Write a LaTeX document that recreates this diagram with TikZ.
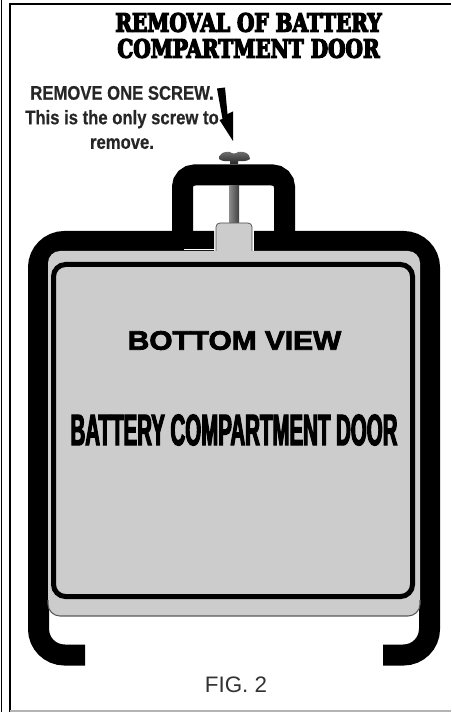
\documentclass[tikz,border=0pt]{standalone}
\usepackage{fontspec}
\setmainfont{Liberation Sans}
\newfontfamily\titlefont[FakeBold=5,FakeStretch=0.79]{DejaVu Serif Bold}
\newfontfamily\narrowfont[FakeBold=0.5,FakeStretch=0.85]{Liberation Sans Bold}
\newfontfamily\condblack[FakeBold=2.5,FakeStretch=0.465]{Liberation Sans Bold}
\newfontfamily\wideblack[FakeBold=3,FakeStretch=1.12]{Liberation Sans Bold}
\usepackage{xcolor}
\definecolor{doorgray}{HTML}{CCCCCC}
\definecolor{framegray}{HTML}{B4B4B4}
\tikzset{
  housing/.style={line width=15.75pt,line cap=butt,rounded corners=19.5pt},
  doorpanel/.style={fill=doorgray,draw=black,line width=3.75pt,rounded corners=9pt},
}
\begin{document}
\begin{tikzpicture}[x=0.75pt,y=-0.75pt]
\useasboundingbox (0,0) rectangle (451,712);
% frame
\draw[line width=1.2pt] (1.5,0) -- (1.5,712);
\draw[line width=1.4pt] (10,712) -- (10,3.8) -- (451,3.8);
\draw[framegray,line width=0.8pt] (10,711) -- (451,711);
% housing
\draw[housing] (85,655) -- (38.5,655) -- (38.5,241.5) -- (214,241.5);
\draw[housing] (383,655) -- (429.5,655) -- (429.5,241.5) -- (254,241.5);
\draw[housing,rounded corners=9pt] (182.5,242) -- (182.5,175) -- (284.5,175) -- (284.5,242);
\fill (168,232) -- (193,232) -- (193,250) -- (180,250) -- cycle;
\fill (285,232) -- (303,234) -- (303,250) -- (285,250) -- cycle;
% screw
\shade[left color=black!45,right color=black!75] (229,186) rectangle (239,224);
\shade[top color=black!55,bottom color=black!85] (219,159) .. controls (219,153) and (225,151) .. (230,152)
  .. controls (232,154) and (236,154) .. (238,152) .. controls (244,151) and (250,153) .. (250,159)
  .. controls (246,162) and (241,161) .. (238,161) -- (238,164) -- (230,164) -- (230,161)
  .. controls (227,161) and (223,162) .. (219,159) -- cycle;
% arrow
\fill (217,88.5) -- (225,87.5) -- (227.5,114) -- (233,111.5) -- (233,141) -- (219.5,120) -- (222.5,119) -- cycle;
% door
\draw[white,line width=0.8pt] (184,249.8) -- (215,249.8) (253.5,232) -- (253.5,250);
\fill[doorgray,rounded corners=9pt] (48,251) -- (48,616) -- (420,616) -- (420,251) -- cycle;
\fill[doorgray,rounded corners=2pt] (216,260) -- (216,223) -- (252,223) -- (252,260) -- cycle;
\draw[black!70,line width=0.5pt,rounded corners=3pt] (216,251) -- (216,223) -- (252,223) -- (252,251);
\draw[black!65,line width=0.8pt,rounded corners=9pt] (48,600) -- (48,616) -- (420,616) -- (420,600);
\draw[doorpanel] (53.5,264.5) rectangle (412.5,596.5);
% text
\node[font=\titlefont\fontsize{19}{19.5}\selectfont,align=center,inner sep=0pt] (title) at (248.5,35.5) {REMOVAL OF BATTERY\\COMPARTMENT DOOR};
\node[font=\narrowfont\fontsize{14.7}{18.4}\selectfont,align=center,inner sep=0pt,text=black!85] (screwnote) at (122,117.5) {REMOVE ONE SCREW.\\This is the only screw to\\remove.};
\node[font=\wideblack\fontsize{20}{24}\selectfont,inner sep=0pt] (viewlabel) at (234.5,340.5) {BOTTOM VIEW};
\node[font=\condblack\fontsize{33}{38}\selectfont,inner sep=0pt] (doorlabel) at (234,430) {BATTERY COMPARTMENT DOOR};
\node[font=\fontsize{16.8}{20}\selectfont,inner sep=0pt,text=black!80] (figlabel) at (236,685) {FIG. 2};
\end{tikzpicture}
\end{document}
